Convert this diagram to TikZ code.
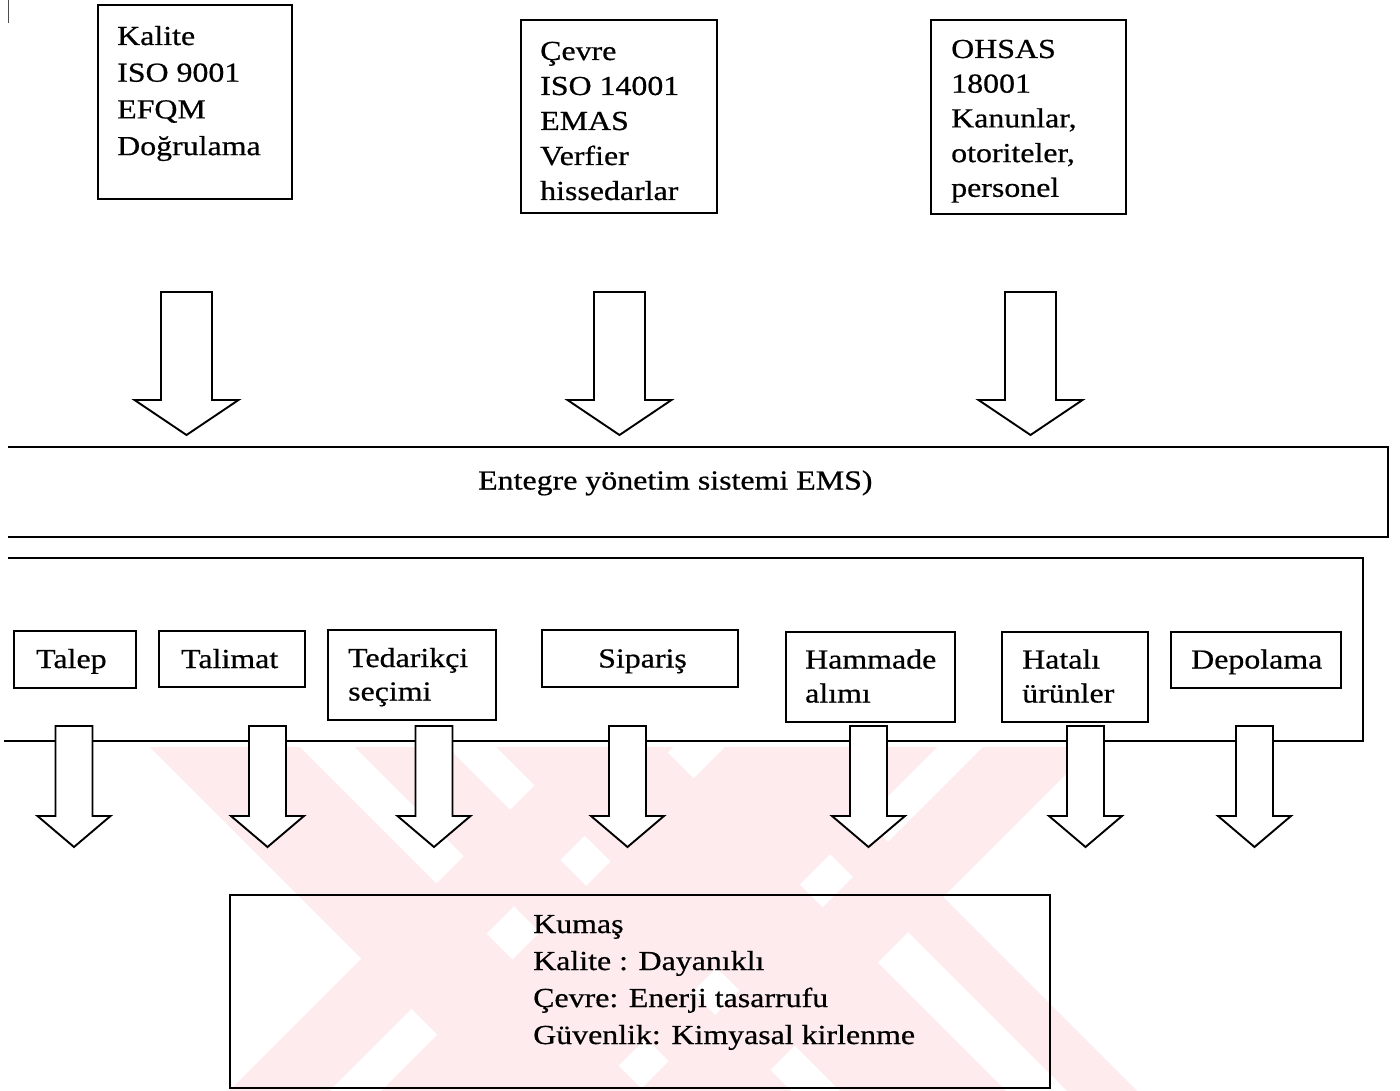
\documentclass[tikz,border=0pt]{standalone}
\usepackage{fontspec}
\setmainfont[FakeStretch=1.16,FakeBold=0.6]{Liberation Serif}
% several lines of text with a fixed baseline pitch; the block's baseline is its first line
\newcommand\stackedlines[2]{\vtop{\baselineskip=#1pt\relax #2}}
\begin{document}
\begin{tikzpicture}[x=1pt,y=-1pt,
  box/.style={draw=black, line width=1.9pt, inner sep=0pt, anchor=north west},
  txt/.style={anchor=base west, inner sep=0pt, font=\fontsize{27.5}{36.5}\selectfont},
  arrowline/.style={draw=black, line width=1.9pt, fill=white, line join=miter},
  frameline/.style={draw=black, line width=1.9pt},
  wm/.style={fill={rgb,255:red,253;green,235;blue,238}},
  pics/downarrow/.style n args={4}{code={
    \draw[arrowline] (-#1,0) -- (#1,0) -- (#1,#3) -- (#2,#3) -- (0,#4)
      -- (-#2,#3) -- (-#1,#3) -- cycle;}},
]
\useasboundingbox (0,0) rectangle (1400,1091);
\fill[white] (0,0) rectangle (1400,1091);

% faint diagonal watermark bands in the lower part of the page
\newcommand\bsband[2]{\fill[wm] ({#1+747},747) -- ({#2+747},747) -- ({#2+1091},1091) -- ({#1+1091},1091) -- cycle;}
\newcommand\fsband[2]{\fill[wm] ({#1-747},747) -- ({#2-747},747) -- ({#2-1091},1091) -- ({#1-1091},1091) -- cycle;}
\begin{scope}
  \clip (0,747) rectangle (1400,1091);
  \bsband{-597}{-447}\bsband{-392}{-300}
  \fsband{1320}{1420}\fsband{1472}{1617}
  \fsband{1730}{1840}\fsband{1543}{1684}
  \bsband{-24}{46}\bsband{-251}{-85}
\end{scope}

% small mark at the top left edge
\draw[line width=1pt, black!70] (8,0) -- (8,23);

% top: the three standard boxes
\node[box, minimum width=194pt, minimum height=194pt] (kalite) at (97,4) {};
\node[txt] (kalitetxt) at (117,45) {\stackedlines{36.7}{\hbox{Kalite}\hbox{ISO 9001}\hbox{EFQM}\hbox{Doğrulama}}};
\node[box, minimum width=196pt, minimum height=193pt] (cevre) at (520,19) {};
\node[txt] (cevretxt) at (540,60) {\stackedlines{35}{\hbox{Çevre}\hbox{ISO 14001}\hbox{EMAS}\hbox{Verfier}\hbox{hissedarlar}}};
\node[box, minimum width=195pt, minimum height=194pt] (ohsas) at (930,19) {};
\node[txt] (ohsastxt) at (951,58) {\stackedlines{34.7}{\hbox{OHSAS}\hbox{18001}\hbox{Kanunlar,}\hbox{otoriteler,}\hbox{personel}}};

% block arrows into the integrated system band
\pic (arrkal) at (186.5,292) {downarrow={25.5}{52}{108}{143}};
\pic (arrcev) at (619.5,292) {downarrow={25.5}{52}{108}{143}};
\pic (arrohs) at (1030.5,292) {downarrow={25.5}{52}{108}{143}};

% integrated management system band (open on the left)
\coordinate (emsA) at (8,447);
\coordinate (emsB) at (1388,447);
\coordinate (emsC) at (1388,537);
\coordinate (emsD) at (8,537);
\draw[frameline] (emsA) -- (emsB) -- (emsC) -- (emsD);
\node[txt] (ems) at (478,489.5) {Entegre yönetim sistemi EMS)};

% process frame (open on the left)
\coordinate (prA) at (8,558);
\coordinate (prB) at (1363,558);
\coordinate (prC) at (1363,741);
\coordinate (prD) at (4,741);
\draw[frameline] (prA) -- (prB) -- (prC) -- (prD);

% process steps
\node[box, minimum width=122pt, minimum height=57pt] (talep) at (13,630) {};
\node[txt] (taleptxt) at (36,668) {Talep};
\node[box, minimum width=146pt, minimum height=56pt] (talimat) at (158,630) {};
\node[txt] (talimattxt) at (181,668) {Talimat};
\node[box, minimum width=168pt, minimum height=90pt] (tedarik) at (327,629) {};
\node[txt] (tedariktxt) at (348,667) {\stackedlines{33.5}{\hbox{Tedarikçi}\hbox{seçimi}}};
\node[box, minimum width=196pt, minimum height=57pt] (siparis) at (541,629) {};
\node[txt] (siparistxt) at (598,667.5) {Sipariş};
\node[box, minimum width=169pt, minimum height=90pt] (hammade) at (785,631) {};
\node[txt] (hammadetxt) at (805,668.5) {\stackedlines{34}{\hbox{Hammade}\hbox{alımı}}};
\node[box, minimum width=146pt, minimum height=90pt] (hatali) at (1001,631) {};
\node[txt] (hatalitxt) at (1022,668.5) {\stackedlines{34}{\hbox{Hatalı}\hbox{ürünler}}};
\node[box, minimum width=170pt, minimum height=56pt] (depolama) at (1170,631) {};
\node[txt] (depolamatxt) at (1191,668.5) {Depolama};

% block arrows out of the process frame
\pic (outA) at (74,726) {downarrow={18.5}{36.5}{90}{121}};
\pic (outB) at (267.5,726) {downarrow={18.5}{36.5}{90}{121}};
\pic (outC) at (434,726) {downarrow={18.5}{36.5}{90}{121}};
\pic (outD) at (627.5,726) {downarrow={18.5}{36.5}{90}{121}};
\pic (outE) at (868.5,726) {downarrow={18.5}{36.5}{90}{121}};
\pic (outF) at (1085.5,726) {downarrow={18.5}{36.5}{90}{121}};
\pic (outG) at (1254.5,726) {downarrow={18.5}{36.5}{90}{121}};

% product box
\node[box, minimum width=820pt, minimum height=193pt] (kumas) at (229,894) {};
\node[txt] (kumastxt) at (533,933) {\stackedlines{37}{\hbox{Kumaş}\hbox{Kalite : Dayanıklı}\hbox{Çevre: Enerji tasarrufu}\hbox{Güvenlik: Kimyasal kirlenme}}};
\end{tikzpicture}
\end{document}
